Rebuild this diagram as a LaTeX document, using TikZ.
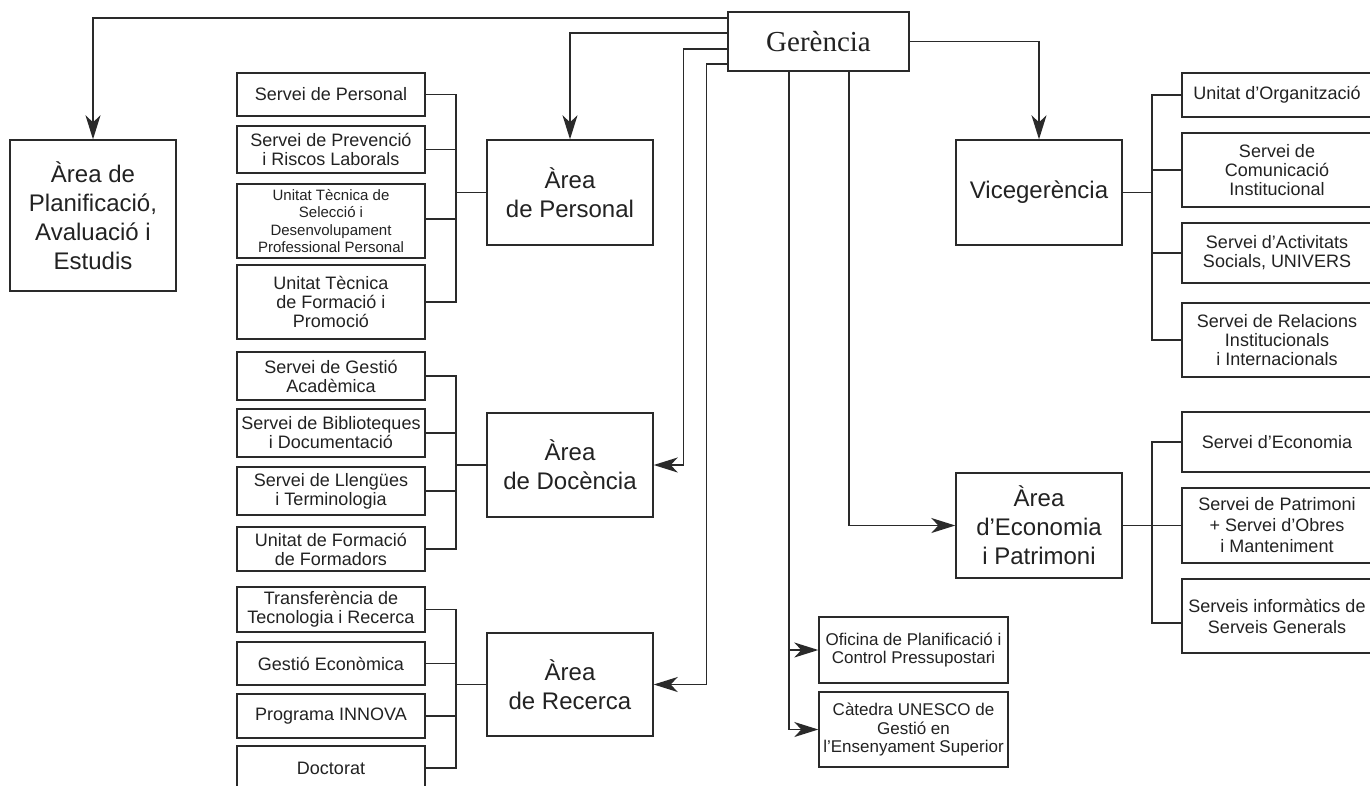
\documentclass[tikz,border=0pt]{standalone}
\usepackage{fontspec}
\setmainfont{Liberation Sans}
\newfontfamily\serifgf{Liberation Serif}
\usetikzlibrary{arrows.meta,calc}
\definecolor{ln}{HTML}{2A2A2A}
\definecolor{tx}{HTML}{222222}
\tikzset{
  bx/.style={draw=ln, line width=1.4pt, inner sep=0pt, align=center, text=tx,
    font=\fontsize{18}{19}\selectfont},
  bigbx/.style={bx, font=\fontsize{24}{29}\selectfont},
  lnk/.style={draw=ln, line width=1.4pt},
  arr/.style={lnk, -{Stealth[length=24pt,width=15pt,inset=7pt]}},
}
\begin{document}
\begin{tikzpicture}[x=1pt,y=-1pt]
\useasboundingbox (0,0) rectangle (1370,785);
\fill[white] (0,0) rectangle (1370,785);
\clip (0,0) rectangle (1370,785);

% main nodes
\node[bx, minimum width=181, minimum height=59, font=\serifgf\fontsize{29}{30}\selectfont] (ger) at (818.5,41.5) {Gerència};
\node[bigbx, minimum width=166, minimum height=151] (plan) at (93,215.5) {Àrea de\\Planificació,\\Avaluació i\\Estudis};
\node[bigbx, minimum width=166, minimum height=105] (pers) at (570,192.5) {Àrea\\de Personal};
\node[bigbx, minimum width=166, minimum height=104] (doc) at (570,465) {Àrea\\de Docència};
\node[bigbx, minimum width=166, minimum height=103] (rec) at (570,684.5) {Àrea\\de Recerca};
\node[bigbx, minimum width=166, minimum height=105] (vice) at (1039,192.5) {Vicegerència};
\node[bigbx, minimum width=166, minimum height=105] (eco) at (1039,525.5) {Àrea\\d’Economia\\i Patrimoni};
\node[bx, minimum width=189, minimum height=66, font=\fontsize{17}{18.3}\selectfont] (ofi) at (913.5,650) {Oficina de Planificació i\\Control Pressupostari};
\node[bx, minimum width=189, minimum height=75, font=\fontsize{17}{18.3}\selectfont] (cat) at (913.5,729.5) {Càtedra UNESCO de\\Gestió en\\l’Ensenyament Superior};

% Personal children
\node[bx, minimum width=188, minimum height=43] (p1) at (331,94.5) {Servei de Personal};
\node[bx, minimum width=188, minimum height=47] (p2) at (331,149.5) {Servei de Prevenció\\i Riscos Laborals};
\node[bx, minimum width=188, minimum height=74, font=\fontsize{15}{17.3}\selectfont] (p3) at (331,221) {Unitat Tècnica de\\Selecció i\\Desenvolupament\\Professional Personal};
\node[bx, minimum width=188, minimum height=74] (p4) at (331,302) {Unitat Tècnica\\de Formació i\\Promoció};

% Docencia children
\node[bx, minimum width=188, minimum height=48] (d1) at (331,376) {Servei de Gestió\\Acadèmica};
\node[bx, minimum width=188, minimum height=48] (d2) at (331,433) {Servei de Biblioteques\\i Documentació};
\node[bx, minimum width=188, minimum height=48] (d3) at (331,491) {Servei de Llengües\\i Terminologia};
\node[bx, minimum width=188, minimum height=44] (d4) at (331,549) {Unitat de Formació\\de Formadors};

% Recerca children
\node[bx, minimum width=188, minimum height=45] (r1) at (331,609.5) {Transferència de\\Tecnologia i Recerca};
\node[bx, minimum width=188, minimum height=43] (r2) at (331,663.5) {Gestió Econòmica};
\node[bx, minimum width=188, minimum height=44] (r3) at (331,716) {Programa INNOVA};
\node[bx, minimum width=188, minimum height=44] (r4) at (331,768) {Doctorat};

% Vicegerencia children
\node[bx, minimum width=190, minimum height=44] (v1) at (1277,95) {Unitat d’Organització};
\node[bx, minimum width=190, minimum height=74] (v2) at (1277,170) {Servei de\\Comunicació\\Institucional};
\node[bx, minimum width=190, minimum height=60] (v3) at (1277,253) {Servei d’Activitats\\Socials, UNIVERS};
\node[bx, minimum width=190, minimum height=74] (v4) at (1277,340) {Servei de Relacions\\Institucionals\\i Internacionals};

% Economia children
\node[bx, minimum width=190, minimum height=60] (e1) at (1277,442) {Servei d’Economia};
\node[bx, minimum width=190, minimum height=75, font=\fontsize{18}{21}\selectfont] (e2) at (1277,525.5) {Servei de Patrimoni\\+ Servei d’Obres\\i Manteniment};
\node[bx, minimum width=190, minimum height=74, font=\fontsize{18}{21}\selectfont] (e3) at (1277,616) {Serveis informàtics de\\Serveis Generals};

% bus coordinates
\coordinate (pb) at (456,192.5);
\coordinate (db) at (456,465);
\coordinate (rb) at (456,684.5);
\coordinate (vb) at (1152,192.5);
\coordinate (eb) at (1152,525.5);

% Personal bus
\draw[lnk] (p1.east) -| (pb) |- (p4.east);
\draw[lnk] (p2.east) -- (p2.east -| pb);
\draw[lnk] ([yshift=2pt]p3.east) -- ([yshift=2pt]p3.east -| pb);
\draw[lnk] (pb) -- (pers.west);

% Docencia bus
\draw[lnk] (d1.east) -| (db) |- (d4.east);
\draw[lnk] (d2.east) -- (d2.east -| db);
\draw[lnk] (d3.east) -- (d3.east -| db);
\draw[lnk] (db) -- (doc.west);

% Recerca bus
\draw[lnk] (r1.east) -| (rb) |- (r4.east);
\draw[lnk] (r2.east) -- (r2.east -| rb);
\draw[lnk] (r3.east) -- (r3.east -| rb);
\draw[lnk] (rb) -- (rec.west);

% Vicegerencia bus
\draw[lnk] (v1.west) -| (vb) |- (v4.west);
\draw[lnk] (v2.west) -- (v2.west -| vb);
\draw[lnk] (v3.west) -- (v3.west -| vb);
\draw[lnk] (vice.east) -- (vb);

% Economia bus
\draw[lnk] (e1.west) -| (eb) |- ([yshift=-7pt]e3.west);
\draw[lnk] (e2.west) -- (eb);
\draw[lnk] (eco.east) -- (eb);

% Gerencia connectors
\draw[arr] (ger.west |- 0,18) -| (plan.north);
\draw[arr] (ger.west |- 0,33) -| (pers.north);
\draw[arr] (ger.west |- 0,49) -| ([xshift=30pt]doc.east) -- (doc.east);
\draw[arr] (ger.west |- 0,64) -| ([xshift=53pt]rec.east) -- (rec.east);
\draw[arr] (ger.south -| 789,0) |- (ofi.west);
\draw[arr] (ger.south -| 789,0) |- (cat.west);
\draw[arr] (ger.south -| 849,0) |- (eco.west);
\draw[arr] (ger.east) -| (vice.north);
\end{tikzpicture}
\end{document}
